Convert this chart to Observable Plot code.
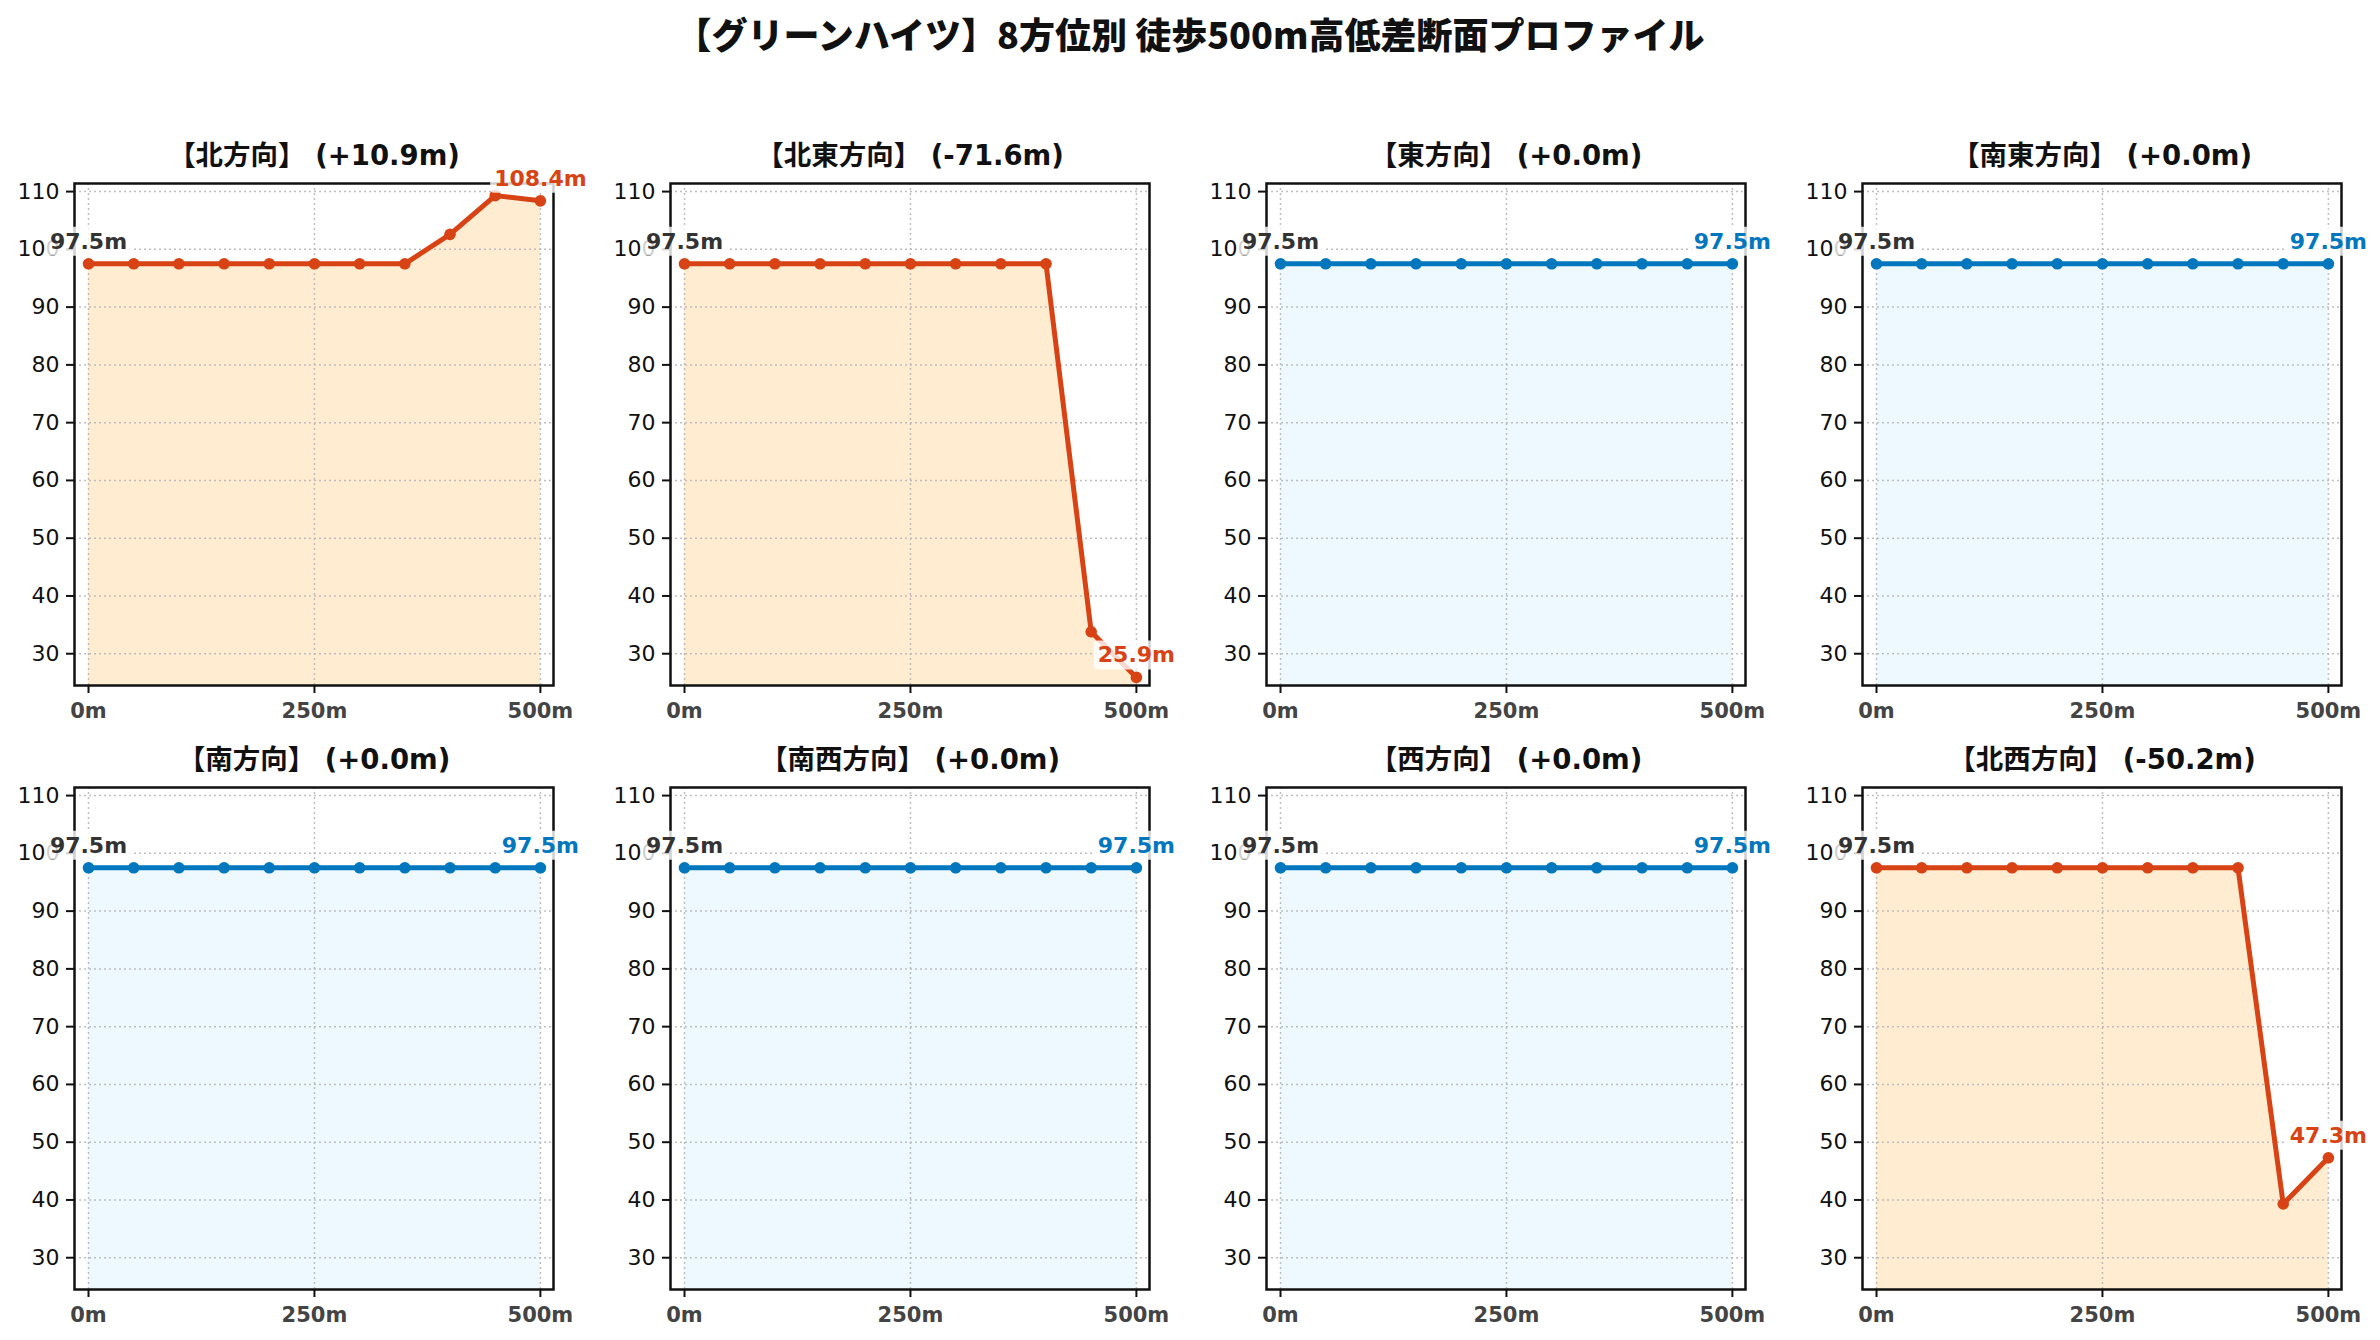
<!DOCTYPE html>
<html><head><meta charset="utf-8">
<script src="https://cdn.jsdelivr.net/npm/d3@7"></script>
<script src="https://cdn.jsdelivr.net/npm/@observablehq/plot@0.6"></script>
<style>
body{margin:0;background:#fff;}
#root{position:relative;width:2380px;height:1340px;overflow:hidden;background:#fff;}
#title{position:absolute;left:0;top:8px;width:2380px;text-align:center;font-family:"Noto Sans CJK JP","DejaVu Sans",sans-serif;font-weight:900;font-size:36px;line-height:50px;color:#111;}
.panel{position:absolute;}
.panel svg{overflow:visible;max-width:none !important;}
</style></head><body>
<div id="root"><div id="title">【グリーンハイツ】8方位別 徒歩500m高低差断面プロファイル</div></div>
<script>
// ---- data ----
const distances = [0, 50, 100, 150, 200, 250, 300, 350, 400, 450, 500];
const directions = ["北", "北東", "東", "南東", "南", "南西", "西", "北西"];
const elevNorth     = [97.5, 97.5, 97.5, 97.5, 97.5, 97.5, 97.5, 97.5, 102.6, 109.3, 108.4];
const elevNorthEast = [97.5, 97.5, 97.5, 97.5, 97.5, 97.5, 97.5, 97.5, 97.5, 33.8, 25.9];
const elevEast      = [97.5, 97.5, 97.5, 97.5, 97.5, 97.5, 97.5, 97.5, 97.5, 97.5, 97.5];
const elevSouthEast = [97.5, 97.5, 97.5, 97.5, 97.5, 97.5, 97.5, 97.5, 97.5, 97.5, 97.5];
const elevSouth     = [97.5, 97.5, 97.5, 97.5, 97.5, 97.5, 97.5, 97.5, 97.5, 97.5, 97.5];
const elevSouthWest = [97.5, 97.5, 97.5, 97.5, 97.5, 97.5, 97.5, 97.5, 97.5, 97.5, 97.5];
const elevWest      = [97.5, 97.5, 97.5, 97.5, 97.5, 97.5, 97.5, 97.5, 97.5, 97.5, 97.5];
const elevNorthWest = [97.5, 97.5, 97.5, 97.5, 97.5, 97.5, 97.5, 97.5, 97.5, 39.3, 47.3];
const series = [elevNorth, elevNorthEast, elevEast, elevSouthEast, elevSouth, elevSouthWest, elevWest, elevNorthWest];
const xTicks = [0, 250, 500];
const yTicks = [30, 40, 50, 60, 70, 80, 90, 100, 110];

// ---- style ----
const changeColor = "#D84315", changeFill = "#FFE0B2";
const flatColor = "#0277BD", flatFill = "#E1F5FE";
const colLeft = [74, 670, 1266, 1862];
const rowTop = [183, 787];
const W = 479, H = 502;
const mL = 80, mR = 70, mT = 80, mB = 60;
const font = "'DejaVu Sans', 'Noto Sans CJK JP', sans-serif";

const root = document.getElementById("root");

directions.forEach((dir, i) => {
  const elev = series[i];
  const data = distances.map((d, j) => ({d, e: elev[j]}));
  const delta = elev[elev.length - 1] - elev[0];
  const sign = delta >= 0 ? "+" : "-";
  const title = `【${dir}方向】 (${sign}${Math.abs(delta).toFixed(1)}m)`;
  const changed = Math.abs(delta) > 0.05;
  const color = changed ? changeColor : flatColor;
  const fill = changed ? changeFill : flatFill;
  const labels = [
    {d: data[0].d, e: data[0].e, c: "#333"},
    {d: data[data.length - 1].d, e: data[data.length - 1].e, c: color}
  ];

  const chart = Plot.plot({
    width: W + mL + mR, height: H + mT + mB,
    marginLeft: mL, marginRight: mR, marginTop: mT, marginBottom: mB,
    style: {fontFamily: font, background: "transparent", overflow: "visible", maxWidth: "none"},
    x: {domain: [-15.5, 514.5]},
    y: {domain: [24.5, 111.4]},
    marks: [
      Plot.areaY(data, {x: "d", y: "e", fill: fill, fillOpacity: 0.6, clip: true}),
      Plot.gridY(yTicks, {stroke: "#b8b8b8", strokeOpacity: 0.9, strokeWidth: 1.5, strokeDasharray: "2,3"}),
      Plot.gridX(xTicks, {stroke: "#b8b8b8", strokeOpacity: 0.9, strokeWidth: 1.5, strokeDasharray: "2,3"}),
      Plot.line(data, {x: "d", y: "e", stroke: color, strokeWidth: 5}),
      Plot.dot(data, {x: "d", y: "e", r: 5.8, fill: color}),
      Plot.frame({stroke: "#111", strokeWidth: 2.5}),
      Plot.axisY(yTicks, {tickSize: 8, tickPadding: 7, fontSize: 22, stroke: "#111", fill: "#111", strokeWidth: 2, label: null}),
      Plot.axisX(xTicks, {tickSize: 8, tickPadding: 10, fontSize: 21, fontWeight: "bold", stroke: "#111", fill: "#444", strokeWidth: 2, tickFormat: d => d + "m", label: null}),
      Plot.text([title], {frameAnchor: "top", lineAnchor: "bottom", dy: -19, fontSize: 27.5, fontWeight: "bold", fill: "#111"}),
      Plot.text(labels, {x: "d", y: "e", text: d => d.e.toFixed(1) + "m", fill: "c", lineAnchor: "bottom", dy: -15, fontSize: 22, fontWeight: "bold"})
    ]
  });
  const div = document.createElement("div");
  div.className = "panel";
  div.style.left = (colLeft[i % 4] - mL) + "px";
  div.style.top = (rowTop[Math.floor(i / 4)] - mT) + "px";
  div.style.width = (W + mL + mR) + "px";
  div.style.height = (H + mT + mB) + "px";
  div.appendChild(chart);
  root.appendChild(div);

  // white translucent boxes behind the end-point labels
  Array.from(chart.querySelectorAll("text"))
    .filter(t => /^\d+\.\dm$/.test(t.textContent.trim()))
    .forEach(t => {
      const b = t.getBBox();
      const r = document.createElementNS("http://www.w3.org/2000/svg", "rect");
      const p = 4;
      r.setAttribute("x", b.x - p);
      r.setAttribute("y", b.y - p + 2);
      r.setAttribute("width", b.width + 2 * p);
      r.setAttribute("height", b.height + 2 * p - 4);
      r.setAttribute("rx", 4);
      r.setAttribute("fill", "white");
      r.setAttribute("fill-opacity", 0.8);
      r.setAttribute("stroke", "none");
      const tr = t.getAttribute("transform");
      if (tr) r.setAttribute("transform", tr);
      t.parentNode.insertBefore(r, t);
    });
});
</script>
</body></html>
